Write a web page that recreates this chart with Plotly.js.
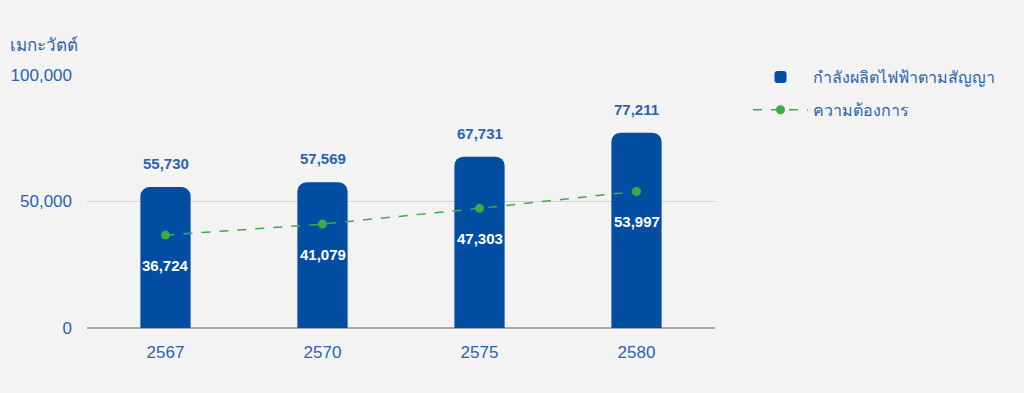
<!DOCTYPE html>
<html>
<head>
<meta charset="utf-8">
<script src="https://cdn.plot.ly/plotly-3.0.1.min.js"></script>
<style>
  html, body { margin: 0; padding: 0; background: #f3f3f3; }
  #chart { width: 1024px; height: 393px; }
</style>
</head>
<body>
<div id="chart"></div>
<script>
const years = ["2567", "2570", "2575", "2580"];
const capacity = [55730, 57569, 67731, 77211];
const demand = [36724, 41079, 47303, 53997];
const seriesNames = ["กำลังผลิตไฟฟ้าตามสัญญา", "ความต้องการ"];
const unitLabel = "เมกะวัตต์";
const yTicks = [0, 50000, 100000];

const blue = "#034ea2";
const textBlue = "#2b63ad";
const green = "#3dac48";
const font = "Liberation Sans, Arial, Noto Sans, sans-serif";
const fmt = v => v.toLocaleString("en-US");

const traces = [
  {
    type: "bar",
    x: years,
    y: capacity,
    name: seriesNames[0],
    legendgroup: "a",
    marker: { color: blue, cornerradius: 9 },
    width: 0.32,
    hoverinfo: "skip"
  },
  {
    type: "scatter",
    mode: "lines+markers",
    x: years,
    y: demand,
    name: seriesNames[1],
    legendgroup: "b",
    line: { color: green, width: 1.5, dash: "dash" },
    marker: { color: green, size: 9 },
    hoverinfo: "skip"
  }
];

const annotations = [];
years.forEach((yr, i) => {
  annotations.push({
    x: i, y: capacity[i], xref: "x", yref: "y",
    text: "<b>" + fmt(capacity[i]) + "</b>",
    showarrow: false, yanchor: "bottom", yshift: 13,
    font: { family: font, size: 15, color: textBlue }
  });
  annotations.push({
    x: i, y: demand[i], xref: "x", yref: "y",
    text: "<b>" + fmt(demand[i]) + "</b>",
    showarrow: false, yanchor: "middle", yshift: -30,
    font: { family: font, size: 15, color: "#ffffff" }
  });
});
annotations.push({
  xref: "paper", yref: "paper", x: -79 / 628, y: 1 + 30 / 253,
  xanchor: "left", yanchor: "middle",
  text: unitLabel, showarrow: false,
  font: { family: font, size: 17, color: textBlue }
});

const layout = {
  width: 1024,
  height: 393,
  paper_bgcolor: "#f3f3f3",
  plot_bgcolor: "#f3f3f3",
  margin: { l: 87, r: 309, t: 75, b: 65 },
  font: { family: font, color: textBlue },
  showlegend: true,
  legend: {
    xref: "container", yref: "container",
    x: 748 / 1024, y: 1 - 60 / 393,
    xanchor: "left", yanchor: "top",
    bgcolor: "rgba(0,0,0,0)",
    font: { family: font, size: 16, color: textBlue },
    itemwidth: 55,
    traceorder: "grouped",
    tracegroupgap: 9
  },
  xaxis: {
    type: "category",
    range: [-0.5, 3.5],
    showgrid: false,
    showline: false,
    zeroline: false,
    ticks: "",
    ticklabelstandoff: 12,
    tickfont: { family: font, size: 17, color: textBlue },
    fixedrange: true
  },
  yaxis: {
    range: [0, 100000],
    tickvals: yTicks,
    ticktext: yTicks.map(fmt),
    showgrid: true,
    gridcolor: "#d4d4d4",
    gridwidth: 1,
    zeroline: true,
    zerolinecolor: "#a9a9a9",
    zerolinewidth: 2,
    showline: false,
    ticks: "",
    ticklabelstandoff: 14,
    tickfont: { family: font, size: 17, color: textBlue },
    fixedrange: true
  },
  annotations: annotations
};

Plotly.newPlot("chart", traces, layout, { displayModeBar: false, staticPlot: true });
</script>
</body>
</html>
